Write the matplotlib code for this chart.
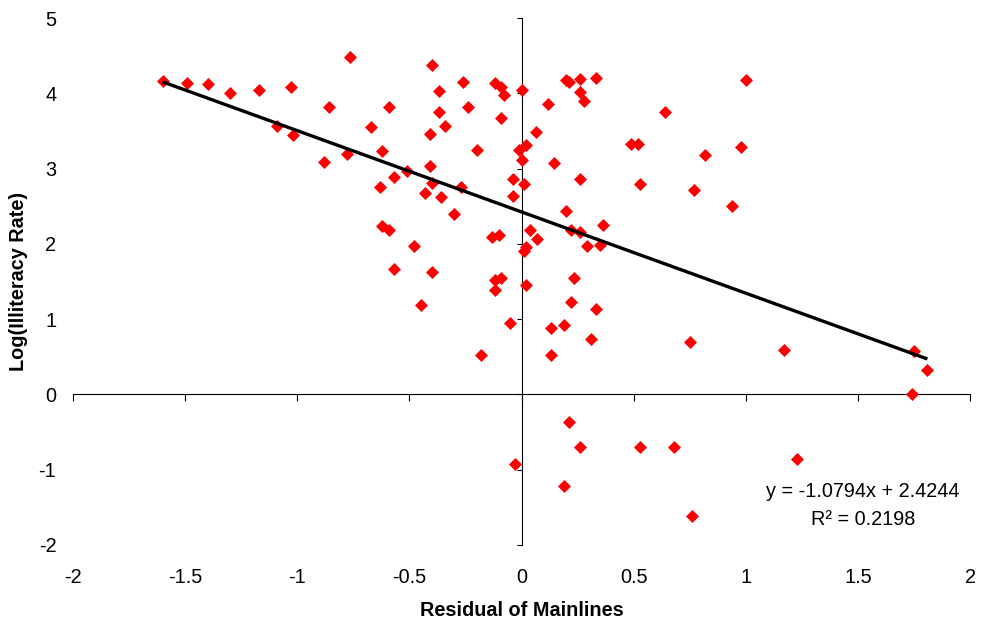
import matplotlib
matplotlib.use("Agg")
import matplotlib.pyplot as plt

plt.rcParams['font.family'] = ['Liberation Sans', 'DejaVu Sans']

# residual of mainlines vs log(illiteracy rate)
resid = [-1.60, -1.49, -1.40, -1.30, -1.17, -1.03, -0.765, -1.09, -1.02, -0.86,
         -0.88, -0.78, -0.67, -0.62, -0.59, -0.63, -0.57, -0.62, -0.59, -0.57,
         -0.48, -0.45, -0.40, -0.51, -0.41, -0.40, -0.43, -0.36, -0.30, -0.27,
         -0.41, -0.34, -0.37, -0.37, -0.40, -0.26, -0.24, -0.20, -0.18, -0.12,
         -0.09, -0.08, -0.09, 0.00, -0.04, -0.04, 0.01, -0.01, 0.02, 0.00,
         0.065, 0.12, 0.145, -0.13, -0.10, 0.04, 0.07, 0.02, 0.01, -0.12,
         -0.09, -0.12, 0.02, -0.05, 0.13, 0.19, 0.13, 0.31, 0.33, 0.22,
         0.235, 0.20, 0.21, 0.26, 0.33, 0.26, 0.28, 0.64, 0.49, 0.52,
         0.82, 1.00, 0.98, 0.94, 0.26, 0.53, 0.77, 0.20, 0.365, 0.22,
         0.26, 0.29, 0.35, 0.21, 0.26, 0.53, 0.68, 1.23, -0.03, 0.19,
         0.76, 0.75, 1.17, 1.75, 1.81, 1.74]
log_illit = [4.16, 4.13, 4.12, 4.01, 4.05, 4.09, 4.48, 3.57, 3.45, 3.82,
             3.09, 3.20, 3.55, 3.23, 3.82, 2.75, 2.89, 2.24, 2.19, 1.66,
             1.97, 1.19, 1.62, 2.97, 3.03, 2.81, 2.67, 2.62, 2.39, 2.76,
             3.46, 3.57, 3.75, 4.03, 4.38, 4.15, 3.82, 3.25, 0.53, 4.14,
             4.09, 3.98, 3.67, 4.05, 2.86, 2.63, 2.80, 3.25, 3.31, 3.11,
             3.48, 3.86, 3.08, 2.09, 2.12, 2.18, 2.07, 1.96, 1.90, 1.52,
             1.54, 1.39, 1.46, 0.95, 0.88, 0.92, 0.53, 0.73, 1.14, 1.23,
             1.55, 4.18, 4.15, 4.19, 4.20, 4.02, 3.90, 3.75, 3.33, 3.33,
             3.18, 4.17, 3.28, 2.50, 2.86, 2.80, 2.72, 2.44, 2.25, 2.18,
             2.16, 1.97, 1.99, -0.37, -0.70, -0.70, -0.70, -0.86, -0.92, -1.21,
             -1.62, 0.70, 0.59, 0.58, 0.33, 0.00]

slope = -1.0794
intercept = 2.4244
r2 = 0.2198

xticks = [-2, -1.5, -1, -0.5, 0, 0.5, 1, 1.5, 2]
xtick_labels = ["-2", "-1.5", "-1", "-0.5", "0", "0.5", "1", "1.5", "2"]
yticks = [-2, -1, 0, 1, 2, 3, 4, 5]
ytick_labels = ["-2", "-1", "0", "1", "2", "3", "4", "5"]

fs = 14.3

fig = plt.figure(figsize=(9.82, 6.25), dpi=100)
ax = fig.add_axes([73 / 982, 80 / 625, 897 / 982, 527 / 625])

ax.scatter(resid, log_illit, marker='D', s=44, color='#ff0000',
           linewidths=0, zorder=3)

# trend line over the data range
x0, x1 = min(resid), max(resid)
ax.plot([x0, x1], [slope * x0 + intercept, slope * x1 + intercept],
        color='black', lw=2.4, zorder=4, solid_capstyle='butt')

ax.set_xlim(-2, 2)
ax.set_ylim(-2, 5)

# axes cross at the origin, Excel style
for s in ['top', 'right']:
    ax.spines[s].set_visible(False)
ax.spines['left'].set_position(('data', 0))
ax.spines['bottom'].set_position(('data', 0))
for s in ['left', 'bottom']:
    ax.spines[s].set_linewidth(0.8)

ax.set_xticks(xticks)
ax.set_yticks(yticks)
ax.tick_params(axis='x', direction='out', length=5, width=0.8,
               labelbottom=False)
ax.tick_params(axis='y', direction='out', length=3.6, width=0.8,
               labelleft=False)

# tick labels sit at the low edge of the plot area
for v, lab in zip(xticks, xtick_labels):
    ax.annotate(lab, xy=(v, 0), xycoords=ax.get_xaxis_transform(),
                xytext=(0, -27.4), textcoords='offset points',
                ha='center', va='baseline', fontsize=fs)
for v, lab in zip(yticks, ytick_labels):
    ax.annotate(lab, xy=(0, v), xycoords=ax.get_yaxis_transform(),
                xytext=(-12, 0), textcoords='offset points',
                ha='right', va='center_baseline', fontsize=fs)

fig.text(521.5 / 982, 9 / 625, "Residual of Mainlines", ha='center',
         va='baseline', fontsize=fs, fontweight='bold')
fig.text(19 / 982, (625 - 281) / 625, "Log(Illiteracy Rate)", ha='center',
         va='center', rotation=90, fontsize=fs, fontweight='bold')

ax.text(1.523, -1.368, f"y = {slope:.4f}x + {intercept:.4f}", ha='center',
        va='baseline', fontsize=fs)
ax.text(1.523, -1.740, f"R\u00b2 = {r2:.4f}", ha='center', va='baseline',
        fontsize=fs)

fig.savefig("out.png", dpi=100)
